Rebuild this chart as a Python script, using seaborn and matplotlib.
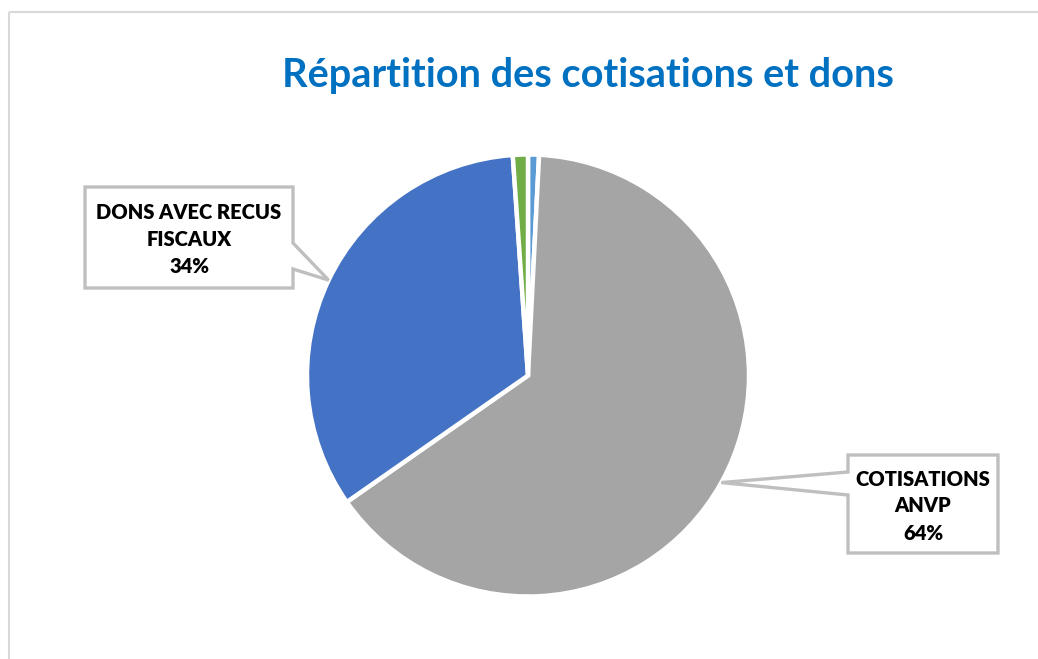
import numpy as np
import matplotlib
matplotlib.use("Agg")
import matplotlib.pyplot as plt
from matplotlib.patches import Polygon, Rectangle
import seaborn as sns

# data (clockwise from 12 o'clock)
categories = ["AUTRES", "COTISATIONS ANVP", "DONS AVEC RECUS FISCAUX", "DIVERS"]
shares = [0.8, 64.5, 33.6, 1.1]
colors = ["#5B9BD5", "#A5A5A5", "#4472C4", "#70AD47"]
callout_text = {1: "COTISATIONS\nANVP\n64%", 2: "DONS AVEC RECUS\nFISCAUX\n34%"}

sns.set_theme(style="white")
plt.rcParams["font.family"] = ["Lato", "DejaVu Sans"]

W, H = 1038, 659
fig = plt.figure(figsize=(W / 100, H / 100), dpi=100)

# pie axes: centre ~ (528, 375) px, radius ~ 221 px
R = 221
pad = 20
cx, cy = 528, 375.5
ax = fig.add_axes([(cx - R - pad) / W, (H - cy - R - pad) / H,
                   2 * (R + pad) / W, 2 * (R + pad) / H])
wedges, _ = ax.pie(shares, colors=colors, startangle=90, counterclock=False,
                   wedgeprops=dict(edgecolor="white", linewidth=3.2))
lim = (R + pad) / R
ax.set_xlim(-lim, lim)
ax.set_ylim(-lim, lim)
ax.set_aspect("equal")
ax.axis("off")

# overlay in pixel coordinates (y downwards) for frame, title and callouts
ov = fig.add_axes([0, 0, 1, 1], zorder=5)
ov.set_xlim(0, W)
ov.set_ylim(H, 0)
ov.axis("off")
ov.patch.set_alpha(0)

ov.add_patch(Rectangle((8.5, 11.5), W + 20, H + 20, fill=False,
                       edgecolor="#D9D9D9", linewidth=1.5))
ov.text(588, 76, "Répartition des cotisations et dons", ha="center", va="center",
        fontsize=28.6, fontweight="bold", color="#0070C0")

fig.canvas.draw()


def tip_of(w):
    mid = np.deg2rad((w.theta1 + w.theta2) / 2)
    px, py = ax.transData.transform((np.cos(mid), np.sin(mid)))
    return px, H - py


boxes = {
    2: dict(box=(85, 187, 293, 288), notch=(243, 269), side="right"),
    1: dict(box=(848, 455, 998, 553), notch=(472, 495), side="left"),
}
for i, spec in boxes.items():
    x0, y0, x1, y1 = spec["box"]
    n0, n1 = spec["notch"]
    tx, ty = tip_of(wedges[i])
    if spec["side"] == "right":
        pts = [(x0, y0), (x1, y0), (x1, n0), (tx, ty), (x1, n1), (x1, y1), (x0, y1)]
    else:
        pts = [(x0, y0), (x1, y0), (x1, y1), (x0, y1), (x0, n1), (tx, ty), (x0, n0)]
    ov.add_patch(Polygon(pts, closed=True, facecolor="white", edgecolor="#BFBFBF",
                         linewidth=2.4, joinstyle="miter"))
    ov.text((x0 + x1) / 2, (y0 + y1) / 2 + 2, callout_text[i], ha="center", va="center",
            fontsize=14.5, fontweight="heavy", color="black", linespacing=1.5)

fig.savefig("out.png", dpi=100)
